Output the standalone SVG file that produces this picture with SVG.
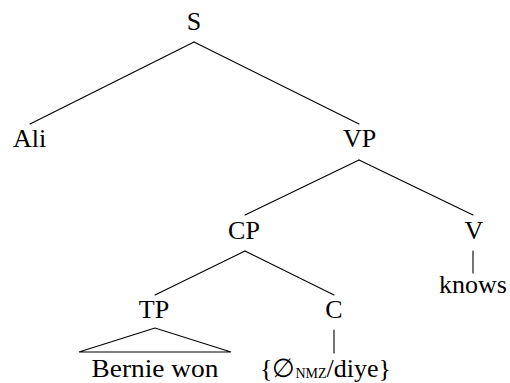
<svg xmlns="http://www.w3.org/2000/svg" width="510" height="383" viewBox="0 0 510 383">
<style>
text{font-size:26px;fill:#000;text-anchor:middle}
.e{stroke:#000;stroke-width:1.1;fill:none;stroke-linecap:round}
.sc{font-size:14px}
</style>
<rect width="510" height="383" fill="#fff"/>
<g id="connectors">
<line class="e" x1="194" y1="42" x2="30" y2="124"/>
<line class="e" x1="194" y1="42" x2="359" y2="124"/>
<line class="e" x1="359" y1="160" x2="245" y2="215"/>
<line class="e" x1="359" y1="160" x2="473" y2="215"/>
<line class="e" x1="245" y1="251" x2="155" y2="295"/>
<line class="e" x1="245" y1="251" x2="334" y2="295"/>
<polygon class="e" points="155,328 79,352 231,352"/>
<line class="e" x1="334" y1="330" x2="334" y2="353"/>
<line class="e" x1="473" y1="251" x2="473" y2="273"/>
</g>
<g font-family="Liberation Serif, DejaVu Serif, serif">
<g id="S"><text x="194" y="29.5">S</text></g>
<g id="Ali"><text x="29.7" y="146.7">Ali</text></g>
<g id="VP"><text x="359.5" y="147">VP</text></g>
<g id="CP"><text x="244" y="238.5">CP</text></g>
<g id="V"><text x="474" y="238.5">V</text></g>
<g id="knows"><text x="473" y="293">knows</text></g>
<g id="TP"><text x="154" y="317.5">TP</text></g>
<g id="C"><text x="334" y="317.5">C</text></g>
<g id="BernieWon"><text x="155" y="377" textLength="127" lengthAdjust="spacingAndGlyphs">Bernie won</text></g>
<g id="Clabel"><text x="325.5" y="377">{∅<tspan class="sc" dy="1">NMZ</tspan><tspan dy="-1">/diye}</tspan></text></g>
</g>
</svg>
